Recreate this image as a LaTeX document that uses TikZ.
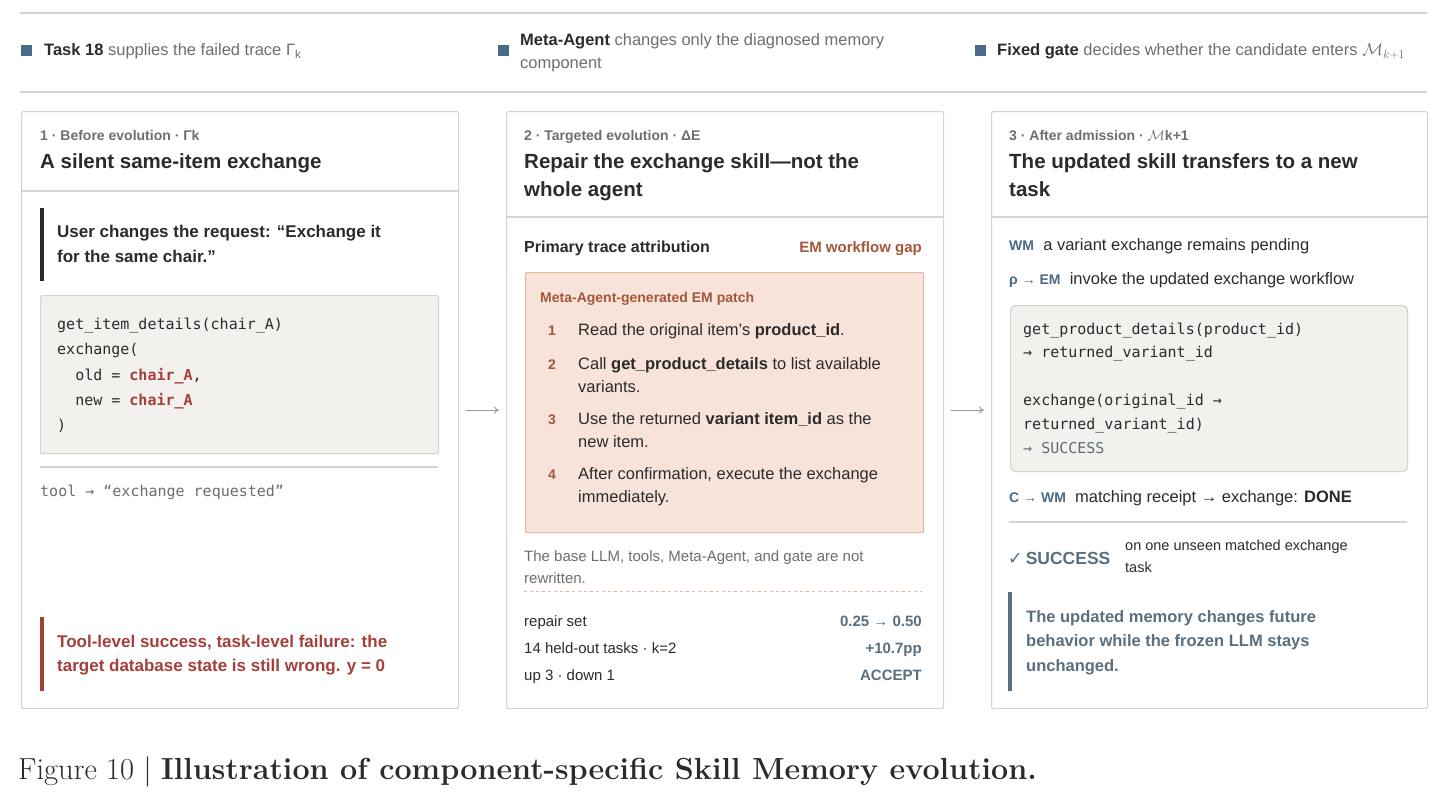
\documentclass[tikz,border=0pt]{standalone}
\usepackage{fontspec}
\setmainfont{Liberation Sans}
\setmonofont{DejaVu Sans Mono}
\newfontfamily\capfont{Latin Modern Roman}
\newfontfamily\symfont{DejaVu Sans}
\usetikzlibrary{calc,arrows.meta}
\definecolor{hdrsq}{HTML}{4A6A89}
\definecolor{slate}{HTML}{5B6E7E}
\definecolor{txtg}{HTML}{6E6E6E}
\definecolor{dark}{HTML}{2B2B2B}
\definecolor{redt}{HTML}{A43F3C}
\definecolor{brown}{HTML}{A4573A}
\definecolor{rulec}{HTML}{D6D4D0}
\definecolor{codebg}{HTML}{F2F1EE}
\definecolor{patchbg}{HTML}{F8E3DA}
\definecolor{patchbd}{HTML}{E4B8A5}
\definecolor{wmc}{HTML}{4A6A89}
\newcommand{\fsz}[2]{\fontsize{#1}{#2}\selectfont}
\begin{document}
\begin{tikzpicture}[x=1pt,y=-1pt,
  t/.style={anchor=base west,inner sep=0pt,text=dark,font=\fsz{16.5}{19}},
  tr/.style={anchor=base east,inner sep=0pt,font=\fsz{16}{19}},
  lab/.style={t,text=txtg,font=\fsz{14}{17}\bfseries},
  ttl/.style={t,text=dark,font=\fsz{20.5}{28}\bfseries},
  code/.style={t,font=\fsz{15}{18}\ttfamily},
  small/.style={t,text=txtg,font=\fsz{15}{18}},
  panel/.style={draw=rulec,line width=1.2pt,fill=white,rounded corners=2pt,inner sep=0pt,anchor=north west},
  sep/.style={draw=rulec,line width=1.2pt},
  sq/.style={fill=hdrsq,inner sep=0pt,minimum size=11pt,anchor=center},
  bar/.style={line width=4pt},
  flow/.style={draw=gray!80,line width=1pt,-{To[length=5pt,width=7pt]}}]
\useasboundingbox (0,0) rectangle (1447,802);
% header
\draw[sep] (20,13) -- (1427,13);
\draw[sep] (20,92) -- (1427,92);
\node[sq] (s1) at (26,51) {};
\node[t,text=txtg] (h1) at (44,56) {\textcolor{dark}{\bfseries Task 18} supplies the failed trace Γ\textsubscript{k}};
\node[sq] (s2) at (503,51) {};
\node[t,text=txtg] (h2a) at (520,46) {\textcolor{dark}{\bfseries Meta-Agent} changes only the diagnosed memory};
\node[t,text=txtg] (h2b) at (520,69) {component};
\node[sq] (s3) at (980,51) {};
\node[t,text=txtg] (h3) at (997,56) {\textcolor{dark}{\bfseries Fixed gate} decides whether the candidate enters $\mathcal{M}_{k+1}$};
% panels
\node[panel,minimum width=437pt,minimum height=597pt] (p1) at (21,111) {};
\node[panel,minimum width=437pt,minimum height=597pt] (p2) at (506,111) {};
\node[panel,minimum width=436pt,minimum height=597pt] (p3) at (991,111) {};
\draw[sep] (21,191) -- (458,191);
\draw[sep] (506,217) -- (943,217);
\draw[sep] (991,217) -- (1427,217);
\draw[flow] ($(p1.east)!0.15!(p2.west)$) -- ($(p1.east)!0.85!(p2.west)$);
\draw[flow] ($(p2.east)!0.15!(p3.west)$) -- ($(p2.east)!0.85!(p3.west)$);
% panel 1
\node[lab] (l1) at (40,141) {1 · Before evolution · Γk};
\node[ttl] (t1) at (40,169) {A silent same-item exchange};
\draw[bar,dark] (42,208) -- (42,281);
\node[t,font=\fsz{17}{20}\bfseries] (u1) at (57,237) {User changes the request: “Exchange it};
\node[t,font=\fsz{17}{20}\bfseries] (u2) at (57,262) {for the same chair.”};
\node[panel,fill=codebg,minimum width=398pt,minimum height=158pt] (c1) at (40,295) {};
\node[code] (c1a) at (57,329) {get\_item\_details(chair\_A)};
\node[code] (c1b) at (57,354) {exchange(};
\node[code] (c1c) at (57,380) {\ \ old = \textcolor{redt}{\bfseries chair\_A},};
\node[code] (c1d) at (57,405) {\ \ new = \textcolor{redt}{\bfseries chair\_A}};
\node[code] (c1e) at (57,430) {)};
\draw[sep] (40,467) -- (438,467);
\node[code,text=txtg] (tool) at (40,496) {tool → “exchange requested”};
\draw[bar,redt] (42,617) -- (42,691);
\node[t,text=redt,font=\fsz{17}{20}\bfseries] (f1) at (57,647) {Tool-level success, task-level failure: the};
\node[t,text=redt,font=\fsz{17}{20}\bfseries] (f2) at (57,671) {target database state is still wrong. \textcolor{redt}{y = 0}};
% panel 2
\node[lab] (l2) at (524,141) {2 · Targeted evolution · ΔE};
\node[ttl] (t2a) at (524,169) {Repair the exchange skill—not the};
\node[ttl] (t2b) at (524,197) {whole agent};
\node[t,font=\fsz{16}{19}\bfseries] (pta) at (524,252) {Primary trace attribution};
\node[tr,text=brown,font=\fsz{15}{18}\bfseries] (gap) at (922,252) {EM workflow gap};
\node[panel,draw=patchbd,fill=patchbg,minimum width=398pt,minimum height=260pt,rounded corners=1pt] (patch) at (525,272) {};
\node[t,text=brown,font=\fsz{14}{17}\bfseries] (pt) at (540,302) {Meta-Agent-generated EM patch};
\node[t,text=brown,font=\fsz{14}{17}\bfseries] (n1) at (548,335) {1};
\node[t] (s1a) at (578,335) {Read the original item's \textbf{product\_id}.};
\node[t,text=brown,font=\fsz{14}{17}\bfseries] (n2) at (548,369) {2};
\node[t] (s2a) at (578,369) {Call \textbf{get\_product\_details} to list available};
\node[t] (s2b) at (578,392) {variants.};
\node[t,text=brown,font=\fsz{14}{17}\bfseries] (n3) at (548,424) {3};
\node[t] (s3a) at (578,424) {Use the returned \textbf{variant item\_id} as the};
\node[t] (s3b) at (578,447) {new item.};
\node[t,text=brown,font=\fsz{14}{17}\bfseries] (n4) at (548,479) {4};
\node[t] (s4a) at (578,479) {After confirmation, execute the exchange};
\node[t] (s4b) at (578,502) {immediately.};
\node[small] (bl1) at (524,561) {The base LLM, tools, Meta-Agent, and gate are not};
\node[small] (bl2) at (524,583) {rewritten.};
\draw[patchbd,dashed,line width=1pt] (524,591) -- (922,591);
\node[t,font=\fsz{15}{18}] (r1) at (524,626) {repair set};
\node[tr,text=slate,font=\fsz{15}{18}\bfseries] (r1v) at (922,626) {0.25 → 0.50};
\node[t,font=\fsz{15}{18}] (r2) at (524,653) {14 held-out tasks · k=2};
\node[tr,text=slate,font=\fsz{15}{18}\bfseries] (r2v) at (922,653) {+10.7pp};
\node[t,font=\fsz{15}{18}] (r3) at (524,680) {up 3 · down 1};
\node[tr,text=slate,font=\fsz{15}{18}\bfseries] (r3v) at (922,680) {ACCEPT};
% panel 3
\node[lab] (l3) at (1009,141) {3 · After admission · $\mathcal{M}$k+1};
\node[ttl] (t3a) at (1009,169) {The updated skill transfers to a new};
\node[ttl] (t3b) at (1009,197) {task};
\node[t] (w1) at (1009,251) {\textcolor{wmc}{\fsz{14}{16}\bfseries WM}\ \ a variant exchange remains pending};
\node[t] (w2) at (1009,284) {\textcolor{wmc}{\fsz{14}{16}\bfseries ρ → EM}\ \ invoke the updated exchange workflow};
\node[panel,fill=codebg,minimum width=397pt,minimum height=166pt,rounded corners=5pt] (c3) at (1010,305) {};
\node[code] (c3a) at (1023,334) {get\_product\_details(product\_id)};
\node[code] (c3b) at (1023,357) {→ returned\_variant\_id};
\node[code] (c3c) at (1023,405) {exchange(original\_id →};
\node[code] (c3d) at (1023,429) {returned\_variant\_id)};
\node[code,text=slate] (c3e) at (1023,453) {→ SUCCESS};
\node[t] (cw) at (1009,502) {\textcolor{wmc}{\fsz{14}{16}\bfseries C → WM}\ \ matching receipt → exchange: \textbf{DONE}};
\draw[sep] (1009,522) -- (1407,522);
\node[t,text=slate,font=\fsz{17.5}{20}\bfseries] (succ) at (1008,564) {{\symfont ✓}\,SUCCESS};
\node[t,font=\fsz{14.5}{17}] (su1) at (1125,550) {on one unseen matched exchange};
\node[t,font=\fsz{14.5}{17}] (su2) at (1125,572) {task};
\draw[bar,slate] (1010,592) -- (1010,691);
\node[t,text=slate,font=\fsz{16.5}{19}\bfseries] (m1) at (1026,622) {The updated memory changes future};
\node[t,text=slate,font=\fsz{16.5}{19}\bfseries] (m2) at (1026,646) {behavior while the frozen LLM stays};
\node[t,text=slate,font=\fsz{16.5}{19}\bfseries] (m3) at (1026,671) {unchanged.};
% caption
\node[t,font=\capfont\fsz{30.5}{34}] (cap) at (18,779) {Figure 10 | \textbf{Illustration of component-specific Skill Memory evolution.}};
\end{tikzpicture}
\end{document}
